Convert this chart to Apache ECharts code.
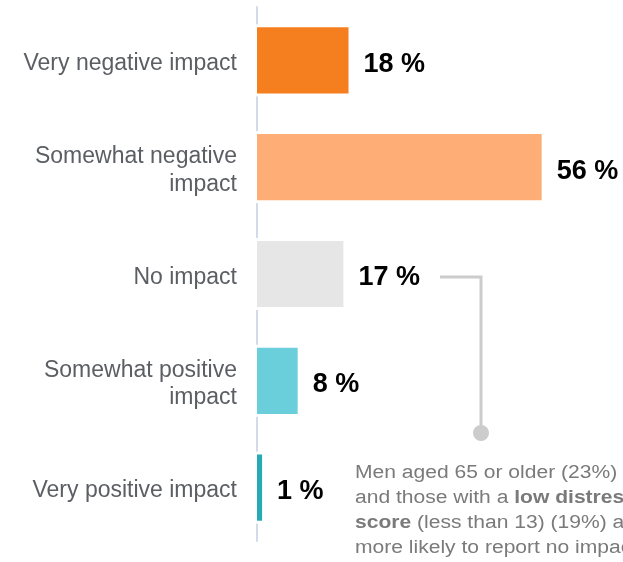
<!DOCTYPE html>
<html>
<head>
<meta charset="utf-8">
<script src="https://cdn.jsdelivr.net/npm/echarts@6/dist/echarts.min.js"></script>
<style>
  html, body { margin: 0; padding: 0; background: #fff; }
  #chart { width: 623px; height: 562px; }
</style>
</head>
<body>
<div id="chart"></div>
<script>
// Chart data
const categories = ['Very negative impact', 'Somewhat negative\nimpact', 'No impact', 'Somewhat positive\nimpact', 'Very positive impact'];
const values = [18, 56, 17, 8, 1];
const barColors = ['#F57F1E', '#FFAD76', '#E6E6E6', '#6BCFDB', '#25AAB6'];

const FONT = '"Liberation Sans", Arial, sans-serif';
const chart = echarts.init(document.getElementById('chart'));

const labelStyle = { color: '#5B5E63', fontSize: 23, fontFamily: FONT, lineHeight: 28 };

const option = {
    animation: false,
    grid: { left: 257, right: 0, top: 7, bottom: 21 },
    xAxis: {
        type: 'value',
        min: 0,
        max: 72,
        show: false
    },
    yAxis: {
        type: 'category',
        inverse: true,
        data: categories,
        axisLine: { show: true, lineStyle: { color: '#D3DBEA', width: 2 } },
        axisTick: { show: false },
        axisLabel: {
            ...labelStyle,
            margin: 20,
            align: 'right',
            // push labels a few px down
            formatter: function(v) {
                return v.split('\n').map((l, i) => (i === 0 ? '{f|' : '{n|') + l + '}').join('\n');
            },
            rich: {
                f: { ...labelStyle, padding: [7, 0, 0, 0] },
                n: { ...labelStyle, padding: [6, 0, 0, 0] }
            }
        }
    },
    series: [{
        type: 'bar',
        barWidth: '62%',
        data: values.map((v, i) => ({ value: v, itemStyle: { color: barColors[i] } })),
        label: {
            show: true,
            position: 'right',
            distance: 15,
            offset: [0, 4],
            formatter: '{c} %',
            color: '#000',
            fontSize: 27,
            fontWeight: 'bold',
            fontFamily: FONT
        },
        z: 3
    }]
};
chart.setOption(option);

// Annotation for "No impact"
const anchorY = chart.convertToPixel({ yAxisIndex: 0 }, categories[2]);
chart.setOption({
    graphic: [
        // white gaps in the axis line around each bar
        ...categories.map(c => {
            const y = chart.convertToPixel({ yAxisIndex: 0 }, c);
            return {
                type: 'rect', z: 2,
                shape: { x: 254, y: y - 36, width: 4, height: 72 },
                style: { fill: '#fff' }
            };
        }),
        {
            type: 'polyline',
            shape: { points: [[440, anchorY + 3], [481, anchorY + 3], [481, 433]] },
            style: { stroke: '#CCCCCC', lineWidth: 3, fill: null }
        },
        {
            type: 'circle',
            shape: { cx: 481, cy: 433, r: 8 },
            style: { fill: '#CCCCCC' }
        },
        {
            type: 'text',
            x: 355,
            y: 461,
            scaleX: 1.17,
            style: {
                text: 'Men aged 65 or older (23%)\nand those with a {b|low distress}\n{b|score} (less than 13) (19%) are\nmore likely to report no impact.',
                fill: '#7A7A7A',
                fontSize: 18,
                lineHeight: 25,
                fontFamily: FONT,
                rich: {
                    b: {
                        fontWeight: 'bold',
                        fontSize: 18,
                        fill: '#7A7A7A',
                        fontFamily: FONT
                    }
                }
            }
        }
    ]
});

window.addEventListener('resize', function() {
    chart.resize();
});
</script>
</body>
</html>
